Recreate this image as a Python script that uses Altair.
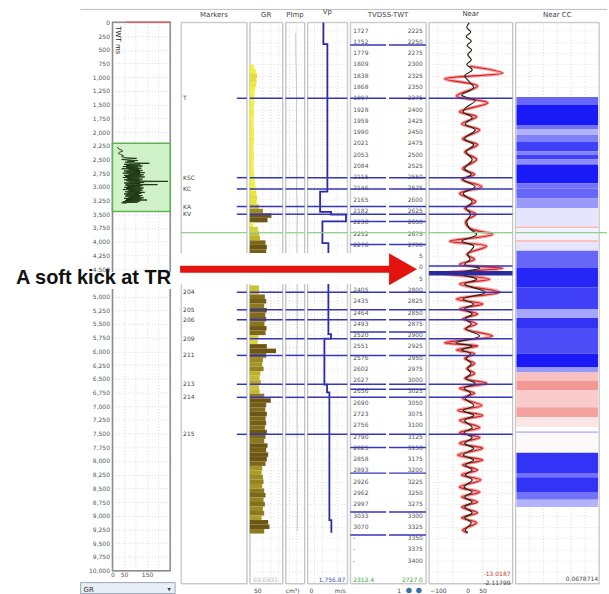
import altair as alt
import pandas as pd

FONT = "DejaVu Sans"

# ------------------------------------------------------------------ data
T_TOP, T_BOT = 2206.7, 3450.9          # TWT window of the track view (ms)

tv_twt = [2225, 2250, 2275, 2300, 2325, 2350, 2375, 2400, 2425, 2450, 2475, 2500,
          2525, 2550, 2575, 2600, 2625, 2650, 2675, 2700, 2725, 2750, 2775, 2800,
          2825, 2850, 2875, 2900, 2925, 2950, 2975, 3000, 3025, 3050, 3075, 3100,
          3125, 3150, 3175, 3200, 3225, 3250, 3275, 3300, 3325, 3350, 3375, 3400]
tv_depth = ["1727", "1752", "1779", "1809", "1838", "1868", "1897", "1928", "1959", "1990",
            "2021", "2053", "2084", "2115", "2146", "2165", "2182", "2230", "2252", "2276",
            "", "", "", "2405", "2435", "2464", "2493", "2520", "2551", "2576", "2602",
            "2627", "2656", "2690", "2723", "2756", "2790", "2825", "2858", "2893", "2926",
            "2962", "2997", "3033", "3070", "-", "-", "-"]

mk_name = ["T", "KSC", "KC", "KA", "KV", "204", "205", "206", "209", "211", "213", "214", "215"]
mk_twt = [2375, 2551, 2576, 2615, 2632, 2805, 2844, 2866, 2908, 2945, 3009, 3038, 3120]
tv_line_twt = [2257, 2648, 2699, 2893, 3020, 3149, 3206, 3292, 3343]
near_thin_twt = [2747]
near_thick_twt = [2763]
green_twt = [2673]
strip_twt = [2718, 2787]
arrow_twt = [2754]

gr_top_twt = list(range(2300, 2711, 10))
gr_top_val = [30, 45, 55, 52, 48, 40, 35, 38, 33, 30, 32, 30, 28, 30, 32, 30, 33, 30, 28, 30,
              32, 30, 28, 30, 35, 38, 40, 45, 50, 55, 52, 70, 100, 165, 135, 25, 62, 72, 78,
              120, 130, 125]
gr_bot_twt = list(range(2790, 3331, 10))
gr_bot_val = [70, 72, 115, 125, 110, 130, 118, 125, 112, 128,
              120, 65, 60, 130, 200, 125, 100, 95, 105, 80,
              75, 85, 70, 75, 110, 160, 125, 118, 130, 120,
              125, 115, 130, 120, 110, 135, 125, 140, 130, 120,
              95, 90, 100, 105, 95, 110, 120, 105, 115, 100,
              110, 90, 140, 150, 110]

pimp_twt = [2230, 2280, 2330, 2380, 2430, 2480, 2530, 2580, 2630, 2680, 2718, 2790,
            2840, 2890, 2940, 2990, 3040, 3090, 3140, 3190, 3240, 3290, 3335]
pimp_val = [6400, 6500, 6900, 7000, 6900, 7000, 7100, 7000, 7600, 7200, 7300, 7400,
            7300, 7500, 7200, 7400, 7500, 7300, 7400, 7500, 7400, 7500, 7400]

vp_twt = [2207, 2255, 2582, 2627, 2633, 2648, 2696, 2787, 2898, 2908, 3010, 3027, 3310, 3338]
vp_val = [2400, 3000, 1900, 3550, 5800, 2250, 3150, 3150, 3550, 2550, 2950, 3300, 3600, 3600]

near_red_twt = [2304, 2319, 2332, 2348, 2370, 2385, 2405, 2416, 2432, 2445,
                2465, 2478, 2494, 2511, 2531, 2544, 2555, 2571, 2586, 2604,
                2619, 2632, 2648, 2663, 2677, 2692, 2703, 2721, 2732, 2743,
                2752, 2763, 2776, 2787, 2805, 2820, 2831, 2842, 2853, 2864,
                2875, 2886, 2902, 2917, 2924, 2933, 2941, 2952, 2963, 2974,
                2985, 2996, 3007, 3018, 3029, 3040, 3056, 3067, 3078, 3089,
                3105, 3116, 3127, 3140, 3151, 3166, 3177, 3188, 3199, 3210,
                3221, 3237, 3248, 3259, 3270, 3281, 3294, 3305, 3316, 3332, 3338]
near_red_val = [7, 117, -77, 33, -37, 67, -27, 30, -20, 40,
                -17, 33, -10, 30, -17, 23, -20, 47, -27, 27,
                -10, 27, -7, 7, 83, -60, 63, -3, 23, -27,
                117, -83, 73, -27, 107, -37, 50, -27, 33, -17,
                30, -10, 83, -77, 33, -37, 23, -10, 23, -3,
                23, -10, 63, -27, 23, -17, 47, -33, 50, -27,
                40, -27, 40, -27, 50, -33, 50, -17, 33, -20,
                43, -27, 40, -20, 33, -20, 33, -20, 30, -17, 0]
near_blk_twt = [2208, 2218, 2228, 2238, 2248, 2258, 2268, 2278, 2290, 2300,
                2312, 2325, 2340, 2352, 2368, 2380, 2395, 2405, 2418, 2432,
                2445, 2465, 2478, 2494, 2511, 2531, 2544, 2555, 2571, 2586,
                2604, 2619, 2632, 2648, 2663, 2677, 2692, 2703, 2721, 2732,
                2743, 2752, 2763, 2776, 2787, 2805, 2820, 2831, 2842, 2853,
                2864, 2875, 2886, 2902, 2917, 2924, 2933, 2941, 2952, 2963,
                2974, 2985, 2996, 3007, 3018, 3029, 3040, 3056, 3067, 3078,
                3089, 3105, 3116, 3127, 3140, 3151, 3166, 3177, 3188, 3199,
                3210, 3221, 3237, 3248, 3259, 3270, 3281, 3294, 3305, 3316, 3332, 3338]
near_blk_val = [5, -3, 10, -5, 12, -2, 13, 0, 12, -3,
                15, -10, 8, 20, -20, 25, -5, -15, 15, -8,
                25, -10, 20, -5, 15, -10, 12, -15, 25, -15,
                15, -5, 10, -3, 5, 30, -20, 20, 0, 8,
                -10, 40, -30, 30, -10, 60, -15, 20, -10, 15,
                -8, 12, -5, 40, -40, 15, -20, 10, -5, 12,
                0, 10, -5, 25, -12, 10, -8, 20, -15, 20,
                -10, 15, -12, 15, -10, 20, -15, 20, -8, 15,
                -8, 15, -12, 15, -10, 15, -10, 15, -10, 12, -8, 0]

cc_edges = [2372, 2390, 2434, 2443, 2456, 2471, 2493, 2500, 2511, 2522, 2564, 2575, 2597,
            2619, 2659, 2663, 2689, 2694, 2713, 2750, 2794, 2842, 2862, 2884, 2941, 2972,
            2983, 3001, 3023, 3060, 3082, 3104, 3113, 3117, 3161, 3206, 3215, 3248, 3265, 3281]
cc_vals = [0.6, 0.9, 0.55, 0.3, 0.5, 0.75, 0.5, 0.75, 0.45, 0.9, 0.55, 0.6, 0.4, 0.1,
           -0.35, 0.05, -0.3, 0.1, 0.6, 0.85, 0.75, 0.35, 0.8, 0.7, 0.9, 0.4, -0.3, -0.5,
           -0.25, -0.45, -0.12, 0.0, 0.25, -0.03, 0.8, 0.55, 0.8, 0.55, 0.3]

ov_twt = [2270, 2290, 2310, 2330, 2350, 2370, 2390, 2410, 2430, 2450, 2470] + list(range(2480, 3301, 10))
ov_gr = [25, 22, 28, 40, 45, 30, 25, 35, 48, 40, 60,
         105, 70, 40, 60, 110, 65, 95, 55, 70, 160,
         90, 50, 120, 60, 130, 45, 110, 60, 125, 40,
         115, 70, 130, 50, 120, 60, 140, 45, 120, 70,
         135, 50, 125, 55, 140, 45, 115, 65, 130, 50,
         120, 60, 240, 70, 135, 50, 120, 60, 195, 55,
         130, 65, 120, 50, 135, 60, 125, 45, 130, 70,
         120, 55, 140, 65, 125, 50, 115, 60, 130, 55,
         120, 70, 135, 50, 125, 60, 150, 55, 120, 45,
         110, 40, 60]

# ------------------------------------------------------------------ layout / style
H = 564
W_MK, W_GR, W_PI, W_VP, W_TV, W_NE, W_CC = 66, 33, 19, 40, 76, 84, 84
OV_W, OV_H = 58, 551
BLUE = "#3636b8"
GRIDC = "#d0d0d0"
FRAMEC = "#c4c4c4"
RED = "#e3140f"

one = pd.DataFrame({"a": [0]})
ysc = alt.Scale(domain=[T_TOP, T_BOT], reverse=True, nice=False, zero=False)
grid_axis = alt.Axis(grid=True, values=list(range(2225, 3451, 25)), labels=False, ticks=False,
                     domain=False, title=None, gridColor="#dadada", gridDash=[1, 2], gridWidth=0.8)


def Y(field, grid=False):
    return alt.Y(f"{field}:Q", scale=ysc, axis=(grid_axis if grid else None))


def ttl(s):
    return alt.TitleParams(text=s, fontSize=7, font=FONT, fontWeight="normal", color="#444",
                           offset=4, anchor="middle")


def frame(w, h=H, color=FRAMEC, sw=1.0):
    return alt.Chart(one).mark_rect(fillOpacity=0, stroke=color, strokeWidth=sw).encode(
        x=alt.value(0), x2=alt.value(w), y=alt.value(0), y2=alt.value(h))


def label(text, x, y, align="center", color="#555", size=6, baseline="middle", font=FONT, weight="normal"):
    return alt.Chart(pd.DataFrame({"s": [text]})).mark_text(
        align=align, baseline=baseline, fontSize=size, font=font, color=color, fontWeight=weight
    ).encode(x=alt.value(x), y=alt.value(y), text="s:N")


mk_df = pd.DataFrame({"t": mk_twt, "name": mk_name})


def mk_rules(w, x0=0, grid=False):
    return alt.Chart(mk_df).mark_rule(color=BLUE, strokeWidth=1.5).encode(
        y=Y("t", grid), x=alt.value(x0), x2=alt.value(w))


def green_rule(w, x0=0, grid=False):
    return alt.Chart(pd.DataFrame({"t": green_twt})).mark_rule(color="#8fd38a", strokeWidth=1.2).encode(
        y=Y("t", grid), x=alt.value(x0), x2=alt.value(w))


def strip_rect(x0, x1, grid=False):
    return alt.Chart(pd.DataFrame({"t0": [strip_twt[0]], "t1": [strip_twt[1]]})).mark_rect(
        color="white", opacity=1).encode(y=Y("t0", grid), y2="t1:Q", x=alt.value(x0), x2=alt.value(x1))


def vgrid(vals, scale, axis=None):
    return alt.Chart(pd.DataFrame({"g": vals})).mark_rule(
        color=GRIDC, strokeDash=[1, 2], strokeWidth=0.8).encode(
        x=alt.X("g:Q", scale=scale, axis=axis), y=alt.value(0), y2=alt.value(H))


# ------------------------------------------------------------------ overview track
ov_scale = alt.Scale(domain=[0, 10000], reverse=True, nice=False, zero=False)
ov_axis = alt.Axis(values=list(range(0, 10001, 250)), format=",.0f",
                   labelExpr="datum.value == 4750 ? '' : datum.label",
                   labelFontSize=6, labelColor="#555",
                   labelFont=FONT, ticks=False, domain=False, labelPadding=3, grid=True,
                   gridDash=[1, 2], gridColor="#d8d8d8", title=None, labelOverlap=False)
gx_scale = alt.Scale(domain=[0, 250], nice=False, zero=False)
gx_axis = alt.Axis(values=[0, 50, 100, 150, 200, 250],
                   labelExpr="(datum.value == 100 || datum.value >= 200) ? '' : datum.label",
                   labelFontSize=6, labelColor="#555", labelFont=FONT, ticks=False, domain=False,
                   labelPadding=1, grid=True, gridDash=[1, 2], gridColor="#d8d8d8", title=None,
                   labelFlush=False, labelOverlap=False)


def OX(f):
    return alt.X(f"{f}:Q", scale=gx_scale, axis=gx_axis)


def OY(f):
    return alt.Y(f"{f}:Q", scale=ov_scale, axis=ov_axis)


box_df = pd.DataFrame({"g0": [0], "g1": [250], "t0": [T_TOP], "t1": [T_BOT]})
ov_df = pd.DataFrame({"t": ov_twt, "g": ov_gr})
top_red = pd.DataFrame({"g0": [60], "g1": [250], "t": [0]})

left = alt.layer(
    alt.Chart(one).mark_rect(opacity=0).encode(
        x=alt.value(-112), x2=alt.value(497), y=alt.value(-20), y2=alt.value(574)),
    frame(OV_W, OV_H, "#8c8c8c", 1.5),
    alt.Chart(box_df).mark_rect(fill="#c9efbf", fillOpacity=0.85, stroke="#5cb552", strokeWidth=1.5).encode(
        x=OX("g0"), x2="g1:Q", y=OY("t0"), y2="t1:Q"),
    alt.Chart(ov_df).mark_line(color="#17300f", strokeWidth=0.9).encode(
        x=OX("g"), y=OY("t"), order="t:Q"),
    alt.Chart(top_red).mark_rule(color="#e06060", strokeWidth=1.5).encode(
        x=OX("g0"), x2="g1:Q", y=OY("t")),
    alt.Chart(pd.DataFrame({"s": ["TWT ms"]})).mark_text(
        angle=90, align="left", baseline="middle", fontSize=7, font=FONT, color="#222").encode(
        x=alt.value(6), y=alt.value(4), text="s:N"),
    alt.Chart(one).mark_rect(color="white", opacity=1).encode(
        x=alt.value(-100), x2=alt.value(62), y=alt.value(251), y2=alt.value(268)),
    label("A soft kick at TR", -97, 263, align="left", color="#111", size=20,
          baseline="alphabetic", font="Liberation Sans", weight="bold"),
    alt.Chart(one).mark_rule(color="#bdbdbd", strokeWidth=1).encode(
        x=alt.value(-32), x2=alt.value(497), y=alt.value(-13)),
    alt.Chart(one).mark_rect(fill="#e8eef6", stroke="#9aa8ba", strokeWidth=1).encode(
        x=alt.value(-32), x2=alt.value(63), y=alt.value(563), y2=alt.value(574)),
    label("GR", -29, 570, align="left", color="#333", size=7),
    alt.Chart(one).mark_point(shape="triangle-down", size=14, filled=True, color="#444", opacity=1).encode(
        x=alt.value(57), y=alt.value(570)),
).properties(width=OV_W, height=OV_H)

# ------------------------------------------------------------------ markers
markers = alt.layer(
    frame(W_MK),
    mk_rules(W_MK, 56),
    alt.Chart(mk_df).mark_text(align="left", baseline="middle", fontSize=6, font=FONT, color="#444").encode(
        y=Y("t"), x=alt.value(2), text="name:N"),
    green_rule(W_MK),
    strip_rect(-2, W_MK + 2),
).properties(width=W_MK, height=H, title=ttl("Markers"))

# ------------------------------------------------------------------ GR
gr_df = pd.DataFrame({"t0": gr_top_twt + gr_bot_twt, "v": gr_top_val + gr_bot_val})
gr_df["t1"] = gr_df["t0"] + 10
gr_df["x0"] = 0
gr_scale = alt.Scale(domain=[0, 250], nice=False, zero=False)
gr_panel = alt.layer(
    frame(W_GR),
    vgrid([100, 160, 220], gr_scale),
    alt.Chart(gr_df).mark_rect().encode(
        x=alt.X("x0:Q", scale=gr_scale, axis=None), x2="v:Q",
        y=Y("t0", True), y2="t1:Q",
        color=alt.Color("v:Q", scale=alt.Scale(domain=[45, 130], range=["#efef3e", "#6d5513"],
                                               clamp=True, interpolate="rgb"), legend=None)),
    mk_rules(W_GR, grid=True), green_rule(W_GR, grid=True), strip_rect(-2, W_GR + 2, grid=True),
    label("50", 8, H + 7, color="#444"),
    label("60.0931", 16, H - 4, color="#b8b8b8"),
).properties(width=W_GR, height=H, title=ttl("GR"))

# ------------------------------------------------------------------ PImp
pimp_scale = alt.Scale(domain=[0, 12000], nice=False, zero=False)
pimp_panel = alt.layer(
    frame(W_PI),
    vgrid([2500, 7000], pimp_scale),
    alt.Chart(pd.DataFrame({"t": pimp_twt, "v": pimp_val})).mark_line(color="#c9c9c9", strokeWidth=1).encode(
        x=alt.X("v:Q", scale=pimp_scale, axis=None), y=Y("t", True), order="t:Q"),
    mk_rules(W_PI, grid=True), green_rule(W_PI, grid=True), strip_rect(-2, W_PI + 2, grid=True),
    label("cm³)", 7, H + 7, color="#444"),
).properties(width=W_PI, height=H, title=ttl("PImp"))

# ------------------------------------------------------------------ Vp
vp_scale = alt.Scale(domain=[0, 6000], nice=False, zero=False)
vp_panel = alt.layer(
    frame(W_VP),
    vgrid([1050, 2250, 4500], vp_scale),
    alt.Chart(pd.DataFrame({"t": vp_twt, "v": vp_val})).mark_line(
        color="#2a2aa8", strokeWidth=1.8, interpolate="step-before").encode(
        x=alt.X("v:Q", scale=vp_scale, axis=None), y=Y("t", True), order="t:Q"),
    mk_rules(W_VP, grid=True), green_rule(W_VP, grid=True), strip_rect(-2, W_VP + 2, grid=True),
    label("0", 2, H + 7, align="left", color="#444"),
    label("m/s", 33, H + 7, color="#444"),
    label("1,756.87", 38, H - 4, align="right", color="#3a4bb0"),
).properties(width=W_VP, height=H, title=ttl("Vp"))

# ------------------------------------------------------------------ TVDSS-TWT
tv_df = pd.DataFrame({"t": tv_twt, "depth": tv_depth, "twt": [str(t) for t in tv_twt]})
tv_lines = pd.DataFrame({"t": mk_twt + tv_line_twt})
arrow_df = pd.DataFrame({"t": arrow_twt})
tv_panel = alt.layer(
    frame(W_TV),
    alt.Chart(tv_df).mark_text(align="left", baseline="middle", fontSize=6, font=FONT, color="#555").encode(
        y=Y("t"), x=alt.value(3), text="depth:N"),
    alt.Chart(tv_df).mark_text(align="right", baseline="middle", fontSize=6, font=FONT, color="#555").encode(
        y=Y("t"), x=alt.value(73), text="twt:N"),
    alt.Chart(tv_lines).mark_rule(color=BLUE, strokeWidth=1.5).encode(y=Y("t"), x=alt.value(0), x2=alt.value(36)),
    alt.Chart(tv_lines).mark_rule(color=BLUE, strokeWidth=1.5).encode(y=Y("t"), x=alt.value(39), x2=alt.value(W_TV)),
    green_rule(W_TV),
    strip_rect(-2, 69),
    alt.Chart(arrow_df).mark_rule(color=RED, strokeWidth=7, strokeCap="butt").encode(
        y=Y("t"), x=alt.value(-171), x2=alt.value(42)),
    alt.Chart(arrow_df).mark_point(shape="M-0.875,-1L0.875,0L-0.875,1Z", size=1024, filled=True,
                                   color=RED, opacity=1, strokeWidth=0).encode(
        y=Y("t"), x=alt.value(53)),
    label("2312.4", 3, H - 4, align="left", color="#3aa63a"),
    label("2727.0", 73, H - 4, align="right", color="#3aa63a"),
    label("1", 49, H + 7, color="#444"),
    alt.Chart(pd.DataFrame({"x": [59, 69]})).mark_point(filled=True, size=30, color="#3d6fa8", opacity=1).encode(
        x=alt.X("x:Q", scale=alt.Scale(domain=[0, W_TV], nice=False, zero=False), axis=None),
        y=alt.value(H + 7)),
).properties(width=W_TV, height=H, title=ttl("TVDSS-TWT"))

# ------------------------------------------------------------------ Near
near_scale = alt.Scale(domain=[-130, 150], nice=False, zero=False)
near_axis = alt.Axis(values=[-100, 0, 50], labelFontSize=6, labelFont=FONT, labelColor="#444",
                     ticks=False, domain=False, grid=False, labelPadding=4, title=None, labelFlush=False)


def NX(f):
    return alt.X(f"{f}:Q", scale=near_scale, axis=near_axis)


red_df = pd.DataFrame({"t": near_red_twt, "v": near_red_val})
blk_df = pd.DataFrame({"t": near_blk_twt, "v": near_blk_val})
near_panel = alt.layer(
    frame(W_NE),
    vgrid([-100, -50, 50, 100], near_scale, near_axis),
    alt.Chart(red_df).mark_line(color="#f4a6a6", strokeWidth=3.4, interpolate="catmull-rom").encode(
        x=NX("v"), y=Y("t", True), order="t:Q"),
    alt.Chart(red_df).mark_line(color="#d01c1c", strokeWidth=1.2, interpolate="catmull-rom").encode(
        x=NX("v"), y=Y("t", True), order="t:Q"),
    alt.Chart(blk_df).mark_line(color="#1f2a1f", strokeWidth=1.2, interpolate="catmull-rom").encode(
        x=NX("v"), y=Y("t", True), order="t:Q"),
    mk_rules(W_NE, grid=True),
    alt.Chart(pd.DataFrame({"t": near_thin_twt})).mark_rule(color=BLUE, strokeWidth=1.5).encode(
        y=Y("t", True), x=alt.value(0), x2=alt.value(W_NE)),
    alt.Chart(pd.DataFrame({"t": near_thick_twt})).mark_rule(color="#2a2aa0", strokeWidth=4.5).encode(
        y=Y("t", True), x=alt.value(0), x2=alt.value(W_NE)),
    green_rule(W_NE, grid=True),
    label("-13.0187", 82, H - 10, align="right", color="#c0392b"),
    label("-2.11799", 82, H - 1, align="right", color="#444"),
).properties(width=W_NE, height=H, title=ttl("Near"))

# ------------------------------------------------------------------ Near CC
cc_df = pd.DataFrame({"t0": cc_edges[:-1], "t1": cc_edges[1:], "cc": cc_vals})
cc_panel = alt.layer(
    frame(W_CC),
    vgrid([1, 2, 3, 4, 5], alt.Scale(domain=[0, 6], nice=False, zero=False)),
    alt.Chart(cc_df).mark_rect().encode(
        y=Y("t0", True), y2="t1:Q", x=alt.value(1), x2=alt.value(W_CC - 1),
        color=alt.Color("cc:Q", scale=alt.Scale(domain=[-1, 0, 1], range=["#e8302a", "#ffffff", "#0000f5"],
                                                interpolate="rgb"), legend=None)),
    green_rule(92, grid=True),
    label("0.0678714", 83, H - 5, align="right", color="#444"),
).properties(width=W_CC, height=H, title=ttl("Near CC"))

# ------------------------------------------------------------------ assemble
tracks = alt.hconcat(markers, gr_panel, pimp_panel, vp_panel, tv_panel, near_panel, cc_panel,
                     spacing=3, bounds="flush").resolve_scale(color="independent")

chart = alt.hconcat(left, tracks, spacing=11, bounds="flush").properties(
    padding=0
).configure_view(strokeWidth=0).configure(background="white")

chart.save("out.html", embed_options={"renderer": "svg", "actions": False})
